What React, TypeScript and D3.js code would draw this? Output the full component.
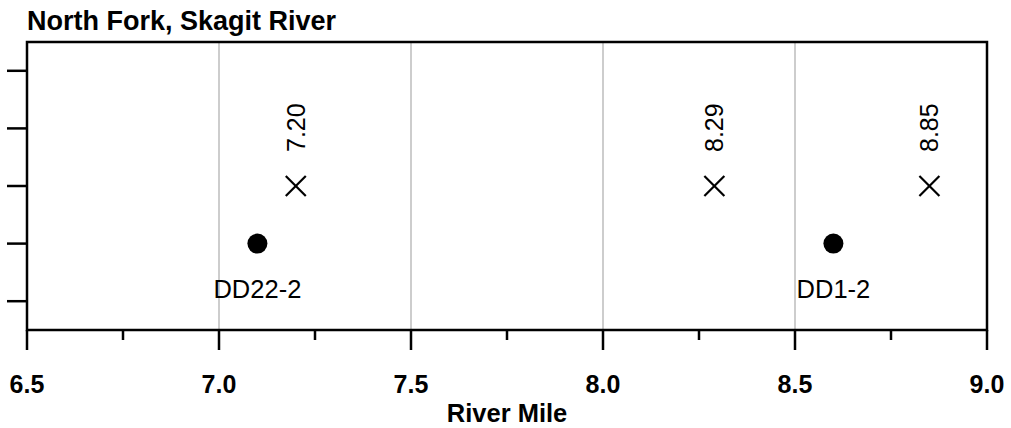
import React from "react";
import * as d3 from "d3";

const title = "North Fork, Skagit River";
const xAxisTitle = "River Mile";
const xDomain = [6.5, 9.0];
const yDomain = [0, 5];
const xMajorTicks = [6.5, 7.0, 7.5, 8.0, 8.5, 9.0];
const xTickLabels = ["6.5", "7.0", "7.5", "8.0", "8.5", "9.0"];
const xMinorTicks = [6.75, 7.25, 7.75, 8.25, 8.75];
const gridMiles = [7.0, 7.5, 8.0, 8.5];
const yTicks = [0.5, 1.5, 2.5, 3.5, 4.5];

const siteNames = ["DD22-2", "DD1-2"];
const siteMiles = [7.1, 8.6];
const siteLevels = [1.5, 1.5];

const crossMiles = [7.2, 8.29, 8.85];
const crossLabels = ["7.20", "8.29", "8.85"];
const crossLevels = [2.5, 2.5, 2.5];

const W = 1011;
const H = 428;
const M = { left: 27, right: 24, top: 42, bottom: 98 };
const FONT = "'Liberation Sans', Arial, Helvetica, sans-serif";

export default function App() {
  const x = d3.scaleLinear().domain(xDomain).range([M.left, W - M.right]);
  const y = d3.scaleLinear().domain(yDomain).range([H - M.bottom, M.top]);
  const x0 = M.left, x1 = W - M.right, y0 = M.top, y1 = H - M.bottom;
  const cs = 10;
  return (
    <svg
      width={W}
      height={H}
      style={{ position: "absolute", left: 0, top: 0, background: "#fff" }}
      fontFamily={FONT}
    >
      {gridMiles.map((g) => (
        <line key={"g" + g} x1={x(g)} x2={x(g)} y1={y0} y2={y1} stroke="#bdbdbd" strokeWidth={1.5} />
      ))}
      <rect x={x0} y={y0} width={x1 - x0} height={y1 - y0} fill="none" stroke="#000" strokeWidth={2.5} />
      {yTicks.map((t) => (
        <line key={"y" + t} x1={x0 - 20} x2={x0} y1={y(t)} y2={y(t)} stroke="#000" strokeWidth={2.5} />
      ))}
      {xMajorTicks.map((t) => (
        <line key={"xm" + t} x1={x(t)} x2={x(t)} y1={y1} y2={y1 + 20} stroke="#000" strokeWidth={2.5} />
      ))}
      {xMinorTicks.map((t) => (
        <line key={"xn" + t} x1={x(t)} x2={x(t)} y1={y1} y2={y1 + 10} stroke="#000" strokeWidth={2.5} />
      ))}
      {xMajorTicks.map((t, i) => (
        <text key={"xl" + t} x={x(t)} y={y1 + 63} textAnchor="middle" fontWeight="bold" fontSize={25}>
          {xTickLabels[i]}
        </text>
      ))}
      <text x={(x0 + x1) / 2} y={422} textAnchor="middle" fontWeight="bold" fontSize={25.5}>
        {xAxisTitle}
      </text>
      <text x={27} y={29.5} fontWeight="bold" fontSize={27}>
        {title}
      </text>
      {siteMiles.map((m, i) => (
        <g key={"s" + i}>
          <circle cx={x(m)} cy={y(siteLevels[i])} r={10} fill="#000" />
          <text x={x(m)} y={y(siteLevels[i]) + 54} textAnchor="middle" fontSize={25.5}>
            {siteNames[i]}
          </text>
        </g>
      ))}
      {crossMiles.map((m, i) => {
        const cx = x(m), cy = y(crossLevels[i]);
        return (
          <g key={"c" + i}>
            <line x1={cx - cs} x2={cx + cs} y1={cy - cs} y2={cy + cs} stroke="#000" strokeWidth={2.2} />
            <line x1={cx - cs} x2={cx + cs} y1={cy + cs} y2={cy - cs} stroke="#000" strokeWidth={2.2} />
            <text
              transform={`translate(${cx + 9},${cy - 34}) rotate(-90)`}
              fontSize={25}
            >
              {crossLabels[i]}
            </text>
          </g>
        );
      })}
    </svg>
  );
}
